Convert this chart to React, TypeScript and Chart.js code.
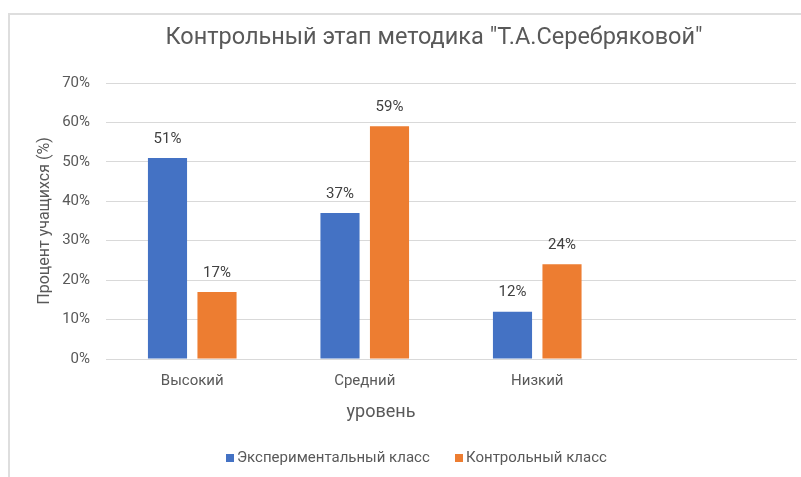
import React, { useEffect, useRef } from 'react';
import { Chart, registerables } from 'chart.js';

Chart.register(...registerables);

const TITLE = 'Контрольный этап методика "Т.А.Серебряковой"';
const CATEGORIES = ['Высокий', 'Средний', 'Низкий', ''];
const SERIES_NAMES = ['Экспериментальный класс', 'Контрольный класс'];
const EXPERIMENTAL: (number | null)[] = [51, 37, 12, null];
const CONTROL: (number | null)[] = [17, 59, 24, null];
const Y_MIN = 0;
const Y_MAX = 70;
const Y_STEP = 10;
const Y_TITLE = 'Процент учащихся (%)';
const X_TITLE = 'уровень';
const COLORS = ['#4472C4', '#ED7D31'];

const FONT = 'Roboto, "Noto Sans", sans-serif';
const TEXT = '#595959';

const overlayPlugin = {
  id: 'overlay',
  afterDraw(chart: any) {
    const ctx = chart.ctx as CanvasRenderingContext2D;
    ctx.save();
    // title
    ctx.fillStyle = TEXT;
    ctx.font = `23.5px ${FONT}`;
    ctx.textAlign = 'center';
    ctx.textBaseline = 'middle';
    ctx.fillText(TITLE, 434, 38);

    // x axis title
    ctx.font = `18px ${FONT}`;
    ctx.fillText(X_TITLE, 381, 412);

    // data labels
    ctx.font = `15px ${FONT}`;
    ctx.fillStyle = '#404040';
    chart.data.datasets.forEach((ds: any, i: number) => {
      const meta = chart.getDatasetMeta(i);
      meta.data.forEach((el: any, j: number) => {
        const v = ds.data[j];
        if (v === null || v === undefined) return;
        ctx.fillText(v + '%', el.x, el.y - 19);
      });
    });

    // legend
    ctx.font = `15px ${FONT}`;
    ctx.textAlign = 'left';
    ctx.fillStyle = TEXT;
    const ly = 458;
    const items = [
      { x: 226, label: SERIES_NAMES[0], color: COLORS[0] },
      { x: 455, label: SERIES_NAMES[1], color: COLORS[1] },
    ];
    items.forEach((it) => {
      ctx.fillStyle = it.color;
      ctx.fillRect(it.x, ly - 4, 8, 8);
      ctx.fillStyle = TEXT;
      ctx.fillText(it.label, it.x + 11, ly);
    });
    ctx.restore();
  },
};

export default function App() {
  const ref = useRef<HTMLCanvasElement | null>(null);

  useEffect(() => {
    if (!ref.current) return;
    const chart = new Chart(ref.current, {
      type: 'bar',
      data: {
        labels: CATEGORIES,
        datasets: [
          {
            label: SERIES_NAMES[0],
            data: EXPERIMENTAL,
            backgroundColor: COLORS[0],
            categoryPercentage: 0.574,
            barPercentage: 0.79,
          },
          {
            label: SERIES_NAMES[1],
            data: CONTROL,
            backgroundColor: COLORS[1],
            categoryPercentage: 0.574,
            barPercentage: 0.79,
          },
        ],
      },
      options: {
        responsive: false,
        animation: false,
        devicePixelRatio: 1,
        layout: { padding: { top: 83, right: 5, bottom: 0, left: 0 } },
        plugins: {
          legend: { display: false },
          title: { display: false },
          tooltip: { enabled: false },
        },
        scales: {
          x: {
            grid: { display: false, drawTicks: false },
            border: { display: true, color: '#d9d9d9', width: 1 },
            ticks: { color: TEXT, font: { family: FONT, size: 15 }, padding: 13 },
            title: { display: false },
            afterFit: (s: any) => {
              s.height = 118;
            },
          },
          y: {
            min: Y_MIN,
            max: Y_MAX,
            ticks: {
              stepSize: Y_STEP,
              color: TEXT,
              font: { family: FONT, size: 15 },
              padding: 16,
              callback: (v: any) => v + '%',
            },
            grid: { color: '#d9d9d9', drawTicks: false, lineWidth: 1 },
            border: { display: false },
            title: {
              display: true,
              text: Y_TITLE,
              color: TEXT,
              font: { family: FONT, size: 16 },
              padding: { top: 35, bottom: 0 },
            },
            afterFit: (s: any) => {
              s.width = 106;
            },
          },
        },
      },
      plugins: [overlayPlugin],
    } as any);
    return () => chart.destroy();
  }, []);

  return (
    <div style={{ position: 'absolute', left: 0, top: 0, width: 801, height: 477, background: '#fff', overflow: 'hidden' }}>
      <div
        style={{
          position: 'absolute',
          left: 8,
          top: 13,
          right: 0,
          bottom: 0,
          borderLeft: '2px solid #dedede',
          borderTop: '2px solid #dedede',
        }}
      />
      <canvas ref={ref} width={801} height={477} style={{ position: 'absolute', left: 0, top: 0 }} />
    </div>
  );
}
